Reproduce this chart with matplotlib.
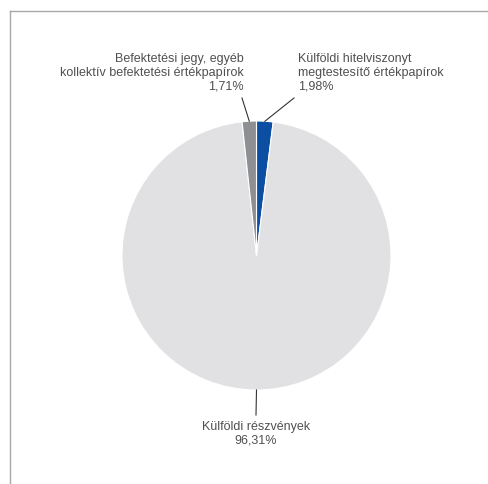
import numpy as np
import matplotlib.pyplot as plt
from matplotlib.lines import Line2D

# adatok
labels = ["Külföldi hitelviszonyt\nmegtestesítő értékpapírok",
          "Külföldi részvények",
          "Befektetési jegy, egyéb\nkollektív befektetési értékpapírok"]
values = [1.98, 96.31, 1.71]
value_txt = ["1,98%", "96,31%", "1,71%"]
colors = ["#0b4ea2", "#e1e1e3", "#8e8f92"]

plt.rcParams['font.family'] = ['Liberation Sans', 'DejaVu Sans']

W, H = 489, 484
fig = plt.figure(figsize=(W/100, H/100), dpi=100)
ax = fig.add_axes([0, 0, 1, 1])

cx, cy, r = 256.5, H - 255.5, 134.5
wedges, _ = ax.pie(values, colors=colors, startangle=90, counterclock=False,
                   center=(cx, cy), radius=r, frame=True,
                   wedgeprops=dict(linewidth=0.8, edgecolor='white'))
ax.set_xlim(0, W)
ax.set_ylim(0, H)
ax.set_aspect('equal')
ax.axis('off')

# keret
fig.add_artist(Line2D([10/W, 1], [1 - 11/H, 1 - 11/H], color='#a8a8a8', lw=1.0))
fig.add_artist(Line2D([10/W, 10/W], [0, 1 - 11/H], color='#a8a8a8', lw=1.0))

txt_color = '#505050'
fs = 9
# címke pozíciók (pixel, felülről)
text_pos = [(298, 53, 'left'), (256, 421, 'center'), (244, 53, 'right')]
line_end = [(294, 98), (256, 415), (242, 98)]

for w, lab, vt, (tx, ty, ha), (lx, ly) in zip(wedges, labels, value_txt, text_pos, line_end):
    ang = np.deg2rad((w.theta1 + w.theta2) / 2)
    px, py = cx + r*np.cos(ang), cy + r*np.sin(ang)
    if ha == 'center':
        px = cx
    ax.plot([px, lx], [py, H - ly], color='#333333', lw=0.8)
    ax.text(tx, H - ty, lab + "\n" + vt, ha=ha, va='top', fontsize=fs,
            color=txt_color, linespacing=1.22, multialignment=ha)

fig.savefig('out.png', dpi=100)
